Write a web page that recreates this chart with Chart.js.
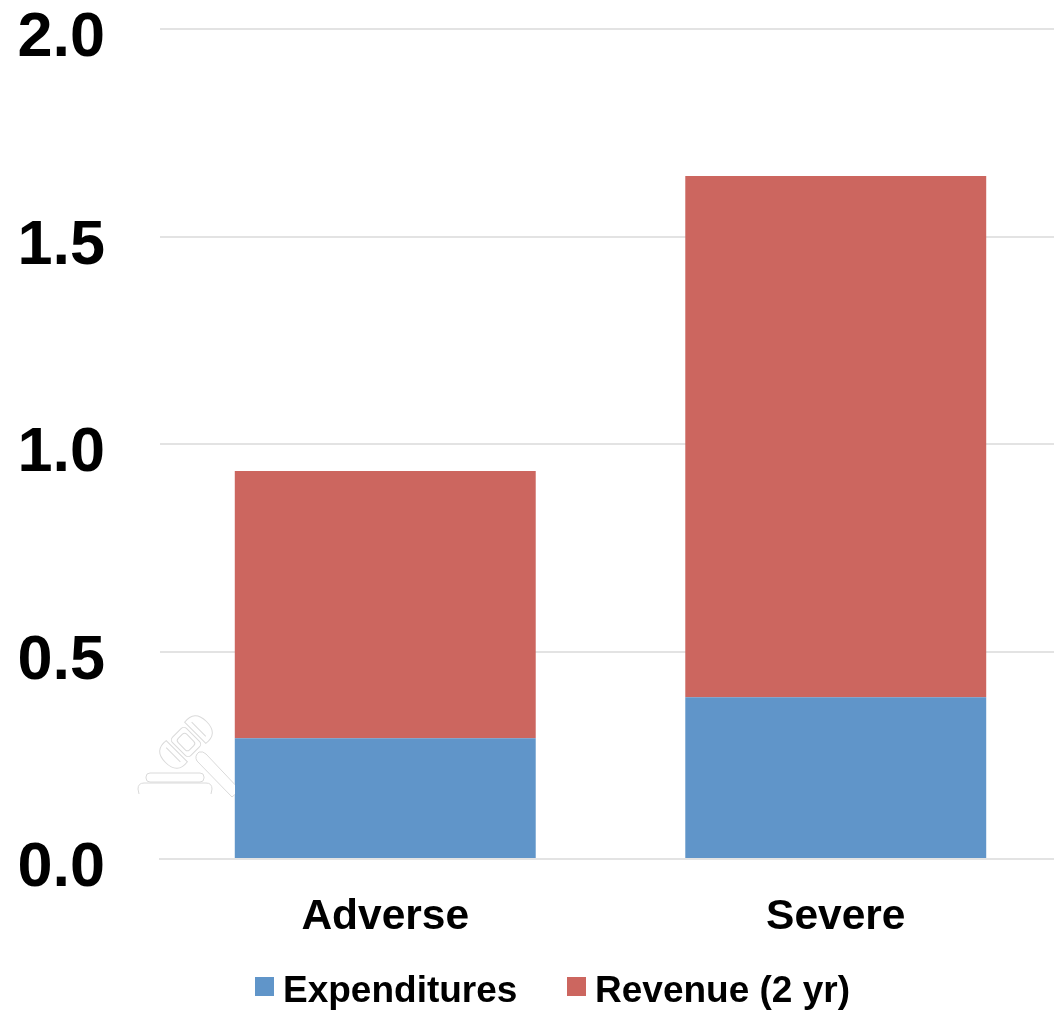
<!DOCTYPE html>
<html>
<head>
<meta charset="utf-8">
<style>
html, body { margin: 0; padding: 0; background: #fff; overflow: hidden; }
#wrap { position: relative; width: 1054px; height: 1012px; overflow: hidden; }
#myChart { position: absolute; left: 0; top: 0; }
#gavel { position: absolute; left: 0; top: 0; }
.legend-box { position: absolute; top: 977px; width: 19px; height: 19px; }
.legend-text { position: absolute; top: 969px; font: bold 37px/42px "Liberation Sans"; color: #000; white-space: nowrap; }
</style>
<script src="https://cdn.jsdelivr.net/npm/chart.js@4"></script>
</head>
<body>
<div id="wrap">
    <canvas id="myChart" width="1061" height="1012"></canvas>
    <!-- faint gavel watermark left of the first bar -->
    <svg id="gavel" width="235" height="800" fill="#fff" stroke="#DADADA" stroke-width="1">
        <g transform="translate(186 742) rotate(-45)">
            <rect x="-10" y="-13" width="20" height="26" rx="4"></rect>
            <rect x="-6" y="-8" width="12" height="16" rx="3"></rect>
            <path d="M-13,-15 L-13,15 Q-29,17 -29,0 Q-29,-17 -13,-15 Z"></path>
            <path d="M-18,-10 L-18,10"></path>
            <path d="M13,-15 L13,15 Q29,17 29,0 Q29,-17 13,-15 Z"></path>
            <path d="M18,-10 L18,10"></path>
        </g>
        <path d="M197,761 Q194,756 199,752 Q203,751 206,754 L240,790 L232,797 Z"></path>
        <rect x="146" y="773" width="58" height="9" rx="4"></rect>
        <path d="M139,794 L138,789 Q138,783 144,783 L206,783 Q212,783 212,789 L211,794"></path>
    </svg>
    <div id="legend"></div>
</div>
<script>
var categories = ["Adverse", "Severe"];
var expenditures = [0.291, 0.39];
var revenue = [0.644, 1.256];
var yTicks = [0, 0.5, 1, 1.5, 2];
var legendBoxX = [255, 567];
var legendTextX = [283, 595];

var ctx = document.getElementById("myChart");
var myChart = new Chart(ctx, {
    type: 'bar',
    data: {
        labels: categories,
        datasets: [
            { label: "Expenditures", data: expenditures, backgroundColor: '#6095C9', stack: 'a', categoryPercentage: 0.668, barPercentage: 1 },
            { label: "Revenue (2 yr)", data: revenue, backgroundColor: '#CC665F', stack: 'a', categoryPercentage: 0.668, barPercentage: 1 }
        ]
    },
    options: {
        responsive: false,
        animation: false,
        layout: { padding: { left: 0, right: 0, top: 29, bottom: 0 } },
        plugins: {
            tooltip: { enabled: false },
            legend: { display: false }
        },
        scales: {
            x: {
                stacked: true,
                grid: { display: false },
                border: { color: '#E3E3E3', width: 2 },
                afterFit: function(axis) { axis.height = 153; axis.paddingLeft = 0; axis.paddingRight = 0; },
                ticks: { color: '#000', font: { family: 'Liberation Sans', size: 42.5, weight: 'bold' }, padding: 25, maxRotation: 0 }
            },
            y: {
                stacked: true,
                min: 0,
                max: 2,
                afterBuildTicks: function(axis) {
                    axis.ticks = yTicks.map(function(v) { return { value: v }; });
                },
                afterFit: function(axis) { axis.width = 160; axis.paddingTop = 0; axis.paddingBottom = 0; },
                grid: { color: '#E3E3E3', lineWidth: 2, tickLength: 55, tickColor: 'rgba(0,0,0,0)' },
                border: { display: false },
                ticks: {
                    color: '#000',
                    font: { family: 'Liberation Sans', size: 63, weight: 'bold' },
                    padding: 0,
                    labelOffset: 10,
                    callback: function(v) { return v.toFixed(1); }
                }
            }
        }
    }
});

// legend sits tight against its boxes, so it is built by hand from the datasets
var legendDiv = document.getElementById("legend");
myChart.data.datasets.forEach(function(ds, i) {
    var box = document.createElement("div");
    box.className = "legend-box";
    box.style.left = legendBoxX[i] + "px";
    box.style.background = ds.backgroundColor;
    legendDiv.appendChild(box);
    var txt = document.createElement("div");
    txt.className = "legend-text";
    txt.style.left = legendTextX[i] + "px";
    txt.textContent = ds.label;
    legendDiv.appendChild(txt);
});
</script>
</body>
</html>
